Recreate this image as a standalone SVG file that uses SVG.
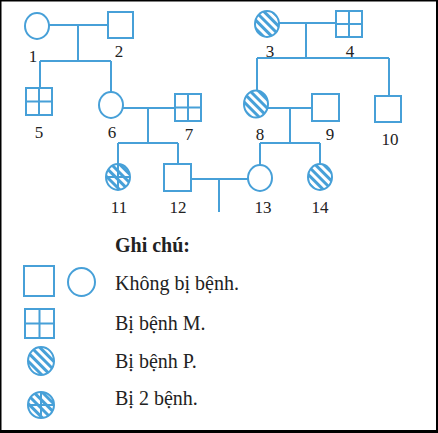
<svg xmlns="http://www.w3.org/2000/svg" width="438" height="433" viewBox="0 0 438 433">
<style>
.s{fill:#fff;stroke:#47a0d8;stroke-width:2}
.h{fill:url(#hatch);stroke:#47a0d8;stroke-width:2}
.g{stroke:#47a0d8;stroke-width:2;fill:none}
.c{stroke:#47a0d8;stroke-width:2;fill:none}
.l{font-family:"Liberation Serif",serif;font-size:17px;fill:#222;text-anchor:middle}
.t{font-family:"Liberation Serif",serif;font-size:20px;fill:#222}
</style>
<defs>
<pattern id="hatch" patternUnits="userSpaceOnUse" width="6" height="6" patternTransform="rotate(45)">
<rect width="6" height="6" fill="#fff"/>
<rect width="6" height="3" fill="#47a0d8"/>
</pattern>
</defs>
<rect x="0" y="0" width="438" height="433" fill="#fff"/>
<rect x="0" y="0" width="438" height="1.5" fill="#000"/>
<rect x="0" y="0" width="1.5" height="433" fill="#000"/>
<rect x="436" y="0" width="2" height="433" fill="#000"/>
<rect x="0" y="430" width="438" height="3" fill="#000"/>

<g id="connectors" class="c">
<path d="M49 25H108M78 25V61M40 61H111M40 61V88M111 61V92"/>
<path d="M123 108H175M148 108V143M118 143H178M118 143V164M178 143V164"/>
<path d="M279 23H336M306 23V58M257 58H389M257 58V90M389 58V96"/>
<path d="M268 108H312M290 108V143M260 143H320M260 143V165M320 143V164"/>
<path d="M191 179H248M219 179V212"/>
</g>

<g id="n1"><ellipse class="s" cx="37" cy="26" rx="12" ry="13"/><text class="l" x="33" y="62">1</text></g>
<g id="n2"><rect class="s" x="108" y="12" width="25" height="26"/><text class="l" x="119" y="57">2</text></g>
<g id="n3"><ellipse class="h" cx="267" cy="24" rx="12" ry="13"/><text class="l" x="270" y="57">3</text></g>
<g id="n4"><rect class="s" x="336" y="11" width="26" height="26"/><path class="g" d="M349 11V37M336 24H362"/><text class="l" x="350" y="57">4</text></g>
<g id="n5"><rect class="s" x="26" y="88" width="26" height="27"/><path class="g" d="M39 88V115M26 101.5H52"/><text class="l" x="39" y="138">5</text></g>
<g id="n6"><ellipse class="s" cx="111" cy="105" rx="12" ry="13"/><text class="l" x="112" y="138">6</text></g>
<g id="n7"><rect class="s" x="175" y="94" width="26" height="27"/><path class="g" d="M188 94V121M175 107.5H201"/><text class="l" x="189" y="140">7</text></g>
<g id="n8"><ellipse class="h" cx="256" cy="104" rx="12" ry="13.5"/><text class="l" x="260" y="140">8</text></g>
<g id="n9"><rect class="s" x="312" y="94" width="27" height="27"/><text class="l" x="330" y="140">9</text></g>
<g id="n10"><rect class="s" x="375" y="96" width="26" height="26"/><text class="l" x="390" y="145">10</text></g>
<g id="n11"><ellipse class="h" cx="118" cy="177" rx="12" ry="13"/><path class="g" d="M118 164V190M106 177H130"/><text class="l" x="119" y="213">11</text></g>
<g id="n12"><rect class="s" x="164" y="164" width="27" height="27"/><text class="l" x="178" y="213">12</text></g>
<g id="n13"><ellipse class="s" cx="260" cy="178" rx="12" ry="13"/><text class="l" x="263" y="213">13</text></g>
<g id="n14"><ellipse class="h" cx="320" cy="177" rx="12" ry="13"/><text class="l" x="320" y="213">14</text></g>

<g id="legend">
<text class="t" x="115" y="252" font-weight="bold">Ghi chú:</text>
<rect class="s" x="24" y="266" width="30" height="30"/>
<ellipse class="s" cx="81.5" cy="282" rx="13.5" ry="14"/>
<text class="t" x="115" y="290">Không bị bệnh.</text>
<rect class="s" x="25" y="309" width="29" height="29"/>
<path class="g" d="M39.5 309V338M25 323.5H54"/>
<text class="t" x="115" y="330">Bị bệnh M.</text>
<ellipse class="h" cx="41" cy="361" rx="13" ry="14"/>
<text class="t" x="115" y="368">Bị bệnh P.</text>
<ellipse class="h" cx="41" cy="405" rx="13" ry="13"/>
<path class="g" d="M41 392V418M28 405H54"/>
<text class="t" x="115" y="405">Bị 2 bệnh.</text>
</g>
</svg>
